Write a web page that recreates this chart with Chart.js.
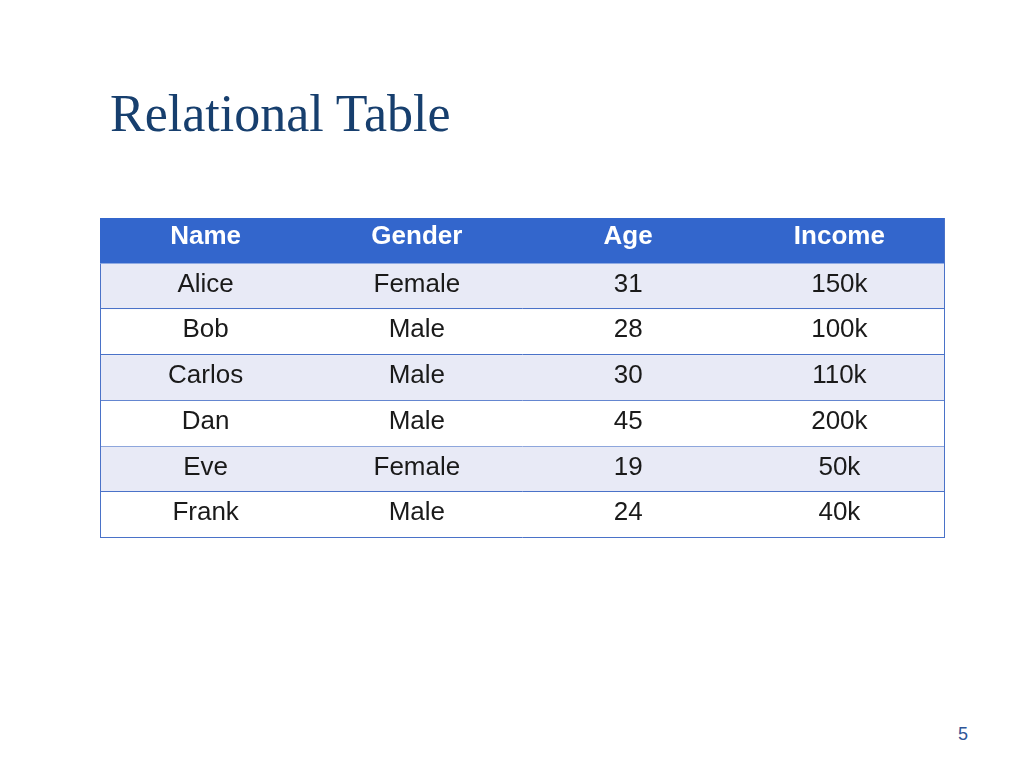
<!DOCTYPE html>
<html><head><meta charset="utf-8">
<script src="https://cdn.jsdelivr.net/npm/chart.js@4"></script>
<style>
  body { margin:0; width:1024px; height:768px; background:#fff; position:relative; overflow:hidden; }
  h1 { position:absolute; left:110px; top:84px; margin:0; font:52px "Liberation Serif", serif; color:#173f6e; font-weight:normal; }
  #wrap { position:absolute; left:100px; top:218px; width:845px; height:320px; }
  #pg { position:absolute; left:958px; top:724px; font:18px "Liberation Sans", Arial; color:#2f5597; }
</style></head>
<body>
<h1>Relational Table</h1>
<div id="wrap"><canvas id="c"></canvas></div>
<div id="pg">5</div>
<script>
const columns = ['Name', 'Gender', 'Age', 'Income'];
const names   = ['Alice', 'Bob', 'Carlos', 'Dan', 'Eve', 'Frank'];
const genders = ['Female', 'Male', 'Male', 'Male', 'Female', 'Male'];
const ages    = [31, 28, 30, 45, 19, 24];
const incomes = ['150k', '100k', '110k', '200k', '50k', '40k'];

const rowKeys = ['header', ...names.map((n, i) => 'r' + i)];

// draws header + cells at positions given by the chart's category scales
const tablePlugin = {
  id: 'table',
  afterDraw(chart) {
    const { ctx, scales: { x, y } } = chart;
    const rowH = y.getPixelForValue(1) - y.getPixelForValue(0);
    const left = x.left, right = x.right;
    rowKeys.forEach((k, r) => {
      const cy = y.getPixelForValue(r);
      const top = cy - rowH / 2;
      ctx.fillStyle = r === 0 ? '#3366cc' : (r % 2 ? '#e8eaf6' : '#ffffff');
      ctx.fillRect(left, top, right - left, rowH);
      const cells = r === 0 ? columns
        : [names[r - 1], genders[r - 1], String(ages[r - 1]), incomes[r - 1]];
      ctx.textAlign = 'center';
      ctx.textBaseline = 'middle';
      ctx.font = (r === 0 ? 'bold ' : '') + '25px "Liberation Sans", Arial';
      ctx.font = (r === 0 ? 'bold ' : '') + '17px "Liberation Sans", Arial';
      ctx.font = (r === 0 ? 'bold ' : '') + '26px "Liberation Sans", Arial';
      ctx.font = (r === 0 ? 'bold 26px' : '26px') + ' "Liberation Sans", Arial';
      ctx.font = (r === 0 ? 'bold ' : '') + '26px "Liberation Sans", Arial';
      ctx.font = (r === 0 ? 'bold ' : '') + '26px "Liberation Sans", Arial';
      ctx.font = (r === 0 ? 'bold ' : '') + '26px "Liberation Sans", Arial';
      ctx.font = (r === 0 ? 'bold ' : '') + '26px "Liberation Sans", Arial';
      ctx.font = (r === 0 ? 'bold ' : '') + '26px "Liberation Sans", Arial';
      ctx.font = (r === 0 ? 'bold ' : '') + '25px "Liberation Sans", Arial';
      ctx.font = (r === 0 ? 'bold ' : '') + '25px "Liberation Sans", Arial';
      ctx.font = (r === 0 ? 'bold ' : '') + '25px "Liberation Sans", Arial';
      ctx.font = (r === 0 ? 'bold ' : '') + '26px "Liberation Sans", Arial';
      ctx.font = (r === 0 ? 'bold ' : '') + '26px "Liberation Sans", Arial';
      ctx.font = (r === 0 ? 'bold ' : '') + '26px "Liberation Sans", Arial';
      ctx.font = (r === 0 ? 'bold ' : '') + '26px "Liberation Sans", Arial';
      ctx.font = (r === 0 ? 'bold ' : '') + '26px "Liberation Sans", Arial';
      ctx.font = (r === 0 ? 'bold ' : '') + '26px "Liberation Sans", Arial';
      ctx.font = (r === 0 ? 'bold ' : '') + '26px "Liberation Sans", Arial';
      ctx.font = (r === 0 ? 'bold ' : '') + '26px "Liberation Sans", Arial';
      ctx.font = (r === 0 ? 'bold ' : '') + '26px "Liberation Sans", Arial';
      ctx.font = (r === 0 ? 'bold ' : '') + '26px "Liberation Sans", Arial';
      ctx.font = (r === 0 ? 'bold ' : '') + '26px "Liberation Sans", Arial';
      ctx.font = (r === 0 ? 'bold ' : '') + '26px "Liberation Sans", Arial';
      ctx.font = (r === 0 ? 'bold ' : '') + '26px "Liberation Sans", Arial';
      ctx.font = (r === 0 ? 'bold ' : '') + '26px "Liberation Sans", Arial';
      ctx.fillStyle = r === 0 ? '#ffffff' : '#1a1a1a';
      cells.forEach((t, c) => ctx.fillText(t, x.getPixelForValue(c), cy - (r === 0 ? 4 : 2)));
      if (r > 0) {
        ctx.strokeStyle = '#4a72c8';
        ctx.lineWidth = 1;
        ctx.beginPath();
        ctx.moveTo(left, Math.round(top + rowH) - 0.5); ctx.lineTo(right, Math.round(top + rowH) - 0.5);
        ctx.stroke();
      }
    });
    // outer left/right borders of the body
    const bodyTop = y.getPixelForValue(0) + rowH / 2;
    ctx.strokeStyle = '#4a72c8';
    ctx.beginPath();
    ctx.moveTo(left + 0.5, bodyTop); ctx.lineTo(left + 0.5, y.bottom);
    ctx.moveTo(right - 0.5, y.top); ctx.lineTo(right - 0.5, y.bottom);
    ctx.stroke();
  }
};

new Chart(document.getElementById('c'), {
  type: 'bar',
  data: { labels: columns, datasets: [] },
  options: {
    responsive: true,
    maintainAspectRatio: false,
    animation: false,
    layout: { padding: 0 },
    plugins: { legend: { display: false }, tooltip: { enabled: false } },
    scales: {
      x: { type: 'category', labels: columns, offset: true, display: false },
      y: { type: 'category', labels: rowKeys, offset: true, display: false }
    }
  },
  plugins: [tablePlugin]
});
</script>
</body></html>
